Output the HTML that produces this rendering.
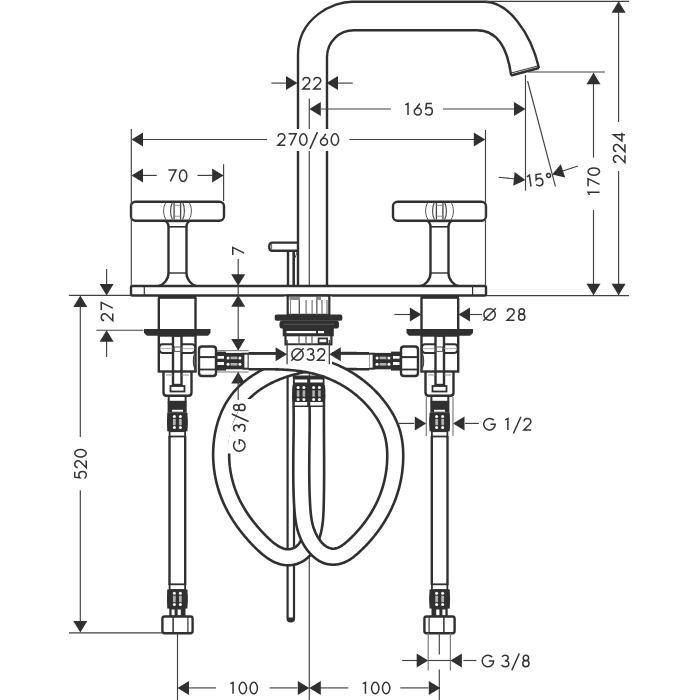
<!DOCTYPE html>
<html><head><meta charset="utf-8"><style>
html,body{margin:0;padding:0;background:#fff;width:700px;height:700px;overflow:hidden}
svg{display:block}
text{font-family:"Liberation Sans",sans-serif;fill:#333}
</style></head><body>
<svg width="700" height="700" viewBox="0 0 700 700">
<rect width="700" height="700" fill="#fff"/>
<path d="M298,286 V55 C298,17 334,1.7 352,1.7 H485 C507.8,1.7 530.8,32.2 539,68" stroke="#303030" stroke-width="2.4" fill="none" />
<path d="M327,286 V57 C327,42 339,30.3 354,30.3 H477 C496.6,30.3 507.2,45.6 511.1,75.4" stroke="#303030" stroke-width="2.4" fill="none" />
<path d="M539,68 L511,75.4" stroke="#303030" stroke-width="2.6" fill="none" />
<path d="M538.5,65.8 L510.5,73.2" stroke="#303030" stroke-width="1.0" fill="none" />
<line x1="485" y1="1.3" x2="629" y2="1.3" stroke="#404040" stroke-width="1.15"/>
<line x1="618.6" y1="1.3" x2="618.6" y2="122" stroke="#404040" stroke-width="1.15"/>
<line x1="618.6" y1="171" x2="618.6" y2="295" stroke="#404040" stroke-width="1.15"/>
<polygon points="618.60,1.30 611.60,12.80 625.60,12.80" fill="#303030"/>
<polygon points="618.60,295.30 611.60,283.80 625.60,283.80" fill="#303030"/>
<g fill="none" stroke="#333" stroke-width="1.5" stroke-linecap="butt" stroke-linejoin="miter" transform="rotate(-90 619.2 148)"><path transform="translate(608.30,141.50)" d="M-3.4,3.7 C-3.4,1.9 -1.9,0.75 0,0.75 C1.95,0.75 3.4,2.0 3.4,3.8 C3.4,4.9 2.9,5.7 2.1,6.6 L-3.6,12.25 H3.7"/><path transform="translate(619.20,141.50)" d="M-3.4,3.7 C-3.4,1.9 -1.9,0.75 0,0.75 C1.95,0.75 3.4,2.0 3.4,3.8 C3.4,4.9 2.9,5.7 2.1,6.6 L-3.6,12.25 H3.7"/><path transform="translate(630.10,141.50)" d="M2.3,12.25 V0.75 L-4.0,9.2 H4.3"/></g>
<line x1="528" y1="72" x2="605" y2="72" stroke="#404040" stroke-width="1.15"/>
<line x1="593.5" y1="72.8" x2="593.5" y2="157.5" stroke="#404040" stroke-width="1.15"/>
<line x1="593.5" y1="210" x2="593.5" y2="295" stroke="#404040" stroke-width="1.15"/>
<polygon points="593.50,72.80 586.50,84.30 600.50,84.30" fill="#303030"/>
<polygon points="593.50,295.30 586.50,283.80 600.50,283.80" fill="#303030"/>
<g fill="none" stroke="#333" stroke-width="1.5" stroke-linecap="butt" stroke-linejoin="miter" transform="rotate(-90 593.8 182.5)"><path transform="translate(582.90,176.00)" d="M-1.6,2.1 L1.1,0.75 V12.25"/><path transform="translate(593.80,176.00)" d="M-3.8,0.75 H3.8 L-1.9,12.25"/><path transform="translate(604.70,176.00)" d="M-3.70,6.50 A3.70,5.75 0 1,0 3.70,6.50 A3.70,5.75 0 1,0 -3.70,6.50 Z"/></g>
<line x1="486" y1="295.6" x2="629" y2="295.6" stroke="#404040" stroke-width="1.15"/>
<line x1="525.5" y1="75" x2="525.5" y2="190.7" stroke="#404040" stroke-width="1.15"/>
<line x1="527.6" y1="81" x2="555.4" y2="186.4" stroke="#404040" stroke-width="1.15"/>
<line x1="498.6" y1="177.3" x2="514" y2="178.8" stroke="#404040" stroke-width="1.15"/>
<polygon points="525.40,180.00 513.26,185.81 514.66,171.88" fill="#303030"/>
<line x1="577.9" y1="166" x2="562" y2="171.3" stroke="#404040" stroke-width="1.15"/>
<polygon points="552.10,174.60 560.80,164.32 565.22,177.60" fill="#303030"/>
<g fill="none" stroke="#333" stroke-width="1.5" stroke-linecap="butt" stroke-linejoin="miter" transform="rotate(-8 529.1 181)"><path transform="translate(529.10,174.50)" d="M-1.6,2.1 L1.1,0.75 V12.25"/></g>
<g fill="none" stroke="#333" stroke-width="1.5" stroke-linecap="butt" stroke-linejoin="miter" transform="rotate(-8 539 180)"><path transform="translate(539.00,173.50)" d="M3.2,0.75 H-2.2 L-2.8,5.8 C-2.0,5.1 -1.0,4.8 0.2,4.8 C2.3,4.8 3.6,6.4 3.6,8.5 C3.6,10.7 2.1,12.25 0,12.25 C-1.5,12.25 -2.7,11.6 -3.5,10.6"/></g>
<g fill="none" stroke="#333" stroke-width="1.5" stroke-linecap="butt" stroke-linejoin="miter" transform="rotate(-8 549.1 179.5)"><path transform="translate(549.10,173.00)" d="M-2.00,2.40 A2.00,2.00 0 1,0 2.00,2.40 A2.00,2.00 0 1,0 -2.00,2.40 Z"/></g>
<line x1="309.3" y1="98.6" x2="309.3" y2="700" stroke="#404040" stroke-width="1.15"/>
<line x1="321" y1="109" x2="391" y2="109" stroke="#404040" stroke-width="1.15"/>
<line x1="443" y1="109" x2="514" y2="109" stroke="#404040" stroke-width="1.15"/>
<polygon points="309.30,109.00 320.80,102.00 320.80,116.00" fill="#303030"/>
<polygon points="525.50,109.00 514.00,102.00 514.00,116.00" fill="#303030"/>
<g fill="none" stroke="#333" stroke-width="1.5" stroke-linecap="butt" stroke-linejoin="miter"><path transform="translate(406.90,102.80)" d="M-1.6,2.1 L1.1,0.75 V12.25"/><path transform="translate(417.80,102.80)" d="M1.9,0.75 L-2.9,7.3 M-3.50,8.75 A3.50,3.50 0 1,0 3.50,8.75 A3.50,3.50 0 1,0 -3.50,8.75 Z"/><path transform="translate(428.70,102.80)" d="M3.2,0.75 H-2.2 L-2.8,5.8 C-2.0,5.1 -1.0,4.8 0.2,4.8 C2.3,4.8 3.6,6.4 3.6,8.5 C3.6,10.7 2.1,12.25 0,12.25 C-1.5,12.25 -2.7,11.6 -3.5,10.6"/></g>
<line x1="271.3" y1="83.1" x2="286" y2="83.1" stroke="#404040" stroke-width="1.15"/>
<line x1="338" y1="83.1" x2="352.8" y2="83.1" stroke="#404040" stroke-width="1.15"/>
<polygon points="297.50,83.10 286.00,76.10 286.00,90.10" fill="#303030"/>
<polygon points="326.50,83.10 338.00,76.10 338.00,90.10" fill="#303030"/>
<g fill="none" stroke="#333" stroke-width="1.5" stroke-linecap="butt" stroke-linejoin="miter"><path transform="translate(306.45,76.75)" d="M-3.4,3.7 C-3.4,1.9 -1.9,0.75 0,0.75 C1.95,0.75 3.4,2.0 3.4,3.8 C3.4,4.9 2.9,5.7 2.1,6.6 L-3.6,12.25 H3.7"/><path transform="translate(317.35,76.75)" d="M-3.4,3.7 C-3.4,1.9 -1.9,0.75 0,0.75 C1.95,0.75 3.4,2.0 3.4,3.8 C3.4,4.9 2.9,5.7 2.1,6.6 L-3.6,12.25 H3.7"/></g>
<rect x="131" y="201.75" width="93" height="19.05000000000001" rx="4.5" stroke="#303030" stroke-width="2.4" fill="none"/>
<path d="M164.7,220.8 C167.5,221.5 168.5,224 168.5,227.3 V273 C168.5,280 163,285 158.75,286" stroke="#303030" stroke-width="2.4" fill="none" />
<path d="M190.3,220.8 C187.5,221.5 186.5,224 186.5,227.3 V273 C186.5,280 192,285 196.25,286" stroke="#303030" stroke-width="2.4" fill="none" />
<line x1="168.5" y1="226.8" x2="186.5" y2="226.8" stroke="#303030" stroke-width="1.6"/>
<line x1="168.5" y1="273" x2="186.5" y2="273" stroke="#303030" stroke-width="1.4"/>
<line x1="174.1" y1="202.5" x2="174.1" y2="219.5" stroke="#444" stroke-width="1.3"/>
<line x1="180.6" y1="202.5" x2="180.6" y2="219.5" stroke="#444" stroke-width="1.3"/>
<line x1="174.1" y1="205.3" x2="180.6" y2="205.3" stroke="#888" stroke-width="0.9"/>
<line x1="174.1" y1="216.2" x2="180.6" y2="216.2" stroke="#888" stroke-width="0.9"/>
<path d="M166,202.3 C162.8,207 162.8,214.8 166,219.6" stroke="#555" stroke-width="1.0" fill="none" />
<path d="M189,202.3 C192.2,207 192.2,214.8 189,219.6" stroke="#555" stroke-width="1.0" fill="none" />
<path d="M172.4,202.3 C170,207 170,214.8 172.4,219.6" stroke="#444" stroke-width="1.1" fill="none" />
<path d="M182.6,202.3 C185,207 185,214.8 182.6,219.6" stroke="#444" stroke-width="1.1" fill="none" />
<line x1="168.5" y1="222.6" x2="186.5" y2="222.6" stroke="#bbb" stroke-width="0.7"/>
<g transform="translate(617,0) scale(-1,1)">
<rect x="131" y="201.75" width="93" height="19.05000000000001" rx="4.5" stroke="#303030" stroke-width="2.4" fill="none"/>
<path d="M164.7,220.8 C167.5,221.5 168.5,224 168.5,227.3 V273 C168.5,280 163,285 158.75,286" stroke="#303030" stroke-width="2.4" fill="none" />
<path d="M190.3,220.8 C187.5,221.5 186.5,224 186.5,227.3 V273 C186.5,280 192,285 196.25,286" stroke="#303030" stroke-width="2.4" fill="none" />
<line x1="168.5" y1="226.8" x2="186.5" y2="226.8" stroke="#303030" stroke-width="1.6"/>
<line x1="168.5" y1="273" x2="186.5" y2="273" stroke="#303030" stroke-width="1.4"/>
<line x1="174.1" y1="202.5" x2="174.1" y2="219.5" stroke="#444" stroke-width="1.3"/>
<line x1="180.6" y1="202.5" x2="180.6" y2="219.5" stroke="#444" stroke-width="1.3"/>
<line x1="174.1" y1="205.3" x2="180.6" y2="205.3" stroke="#888" stroke-width="0.9"/>
<line x1="174.1" y1="216.2" x2="180.6" y2="216.2" stroke="#888" stroke-width="0.9"/>
<path d="M166,202.3 C162.8,207 162.8,214.8 166,219.6" stroke="#555" stroke-width="1.0" fill="none" />
<path d="M189,202.3 C192.2,207 192.2,214.8 189,219.6" stroke="#555" stroke-width="1.0" fill="none" />
<path d="M172.4,202.3 C170,207 170,214.8 172.4,219.6" stroke="#444" stroke-width="1.1" fill="none" />
<path d="M182.6,202.3 C185,207 185,214.8 182.6,219.6" stroke="#444" stroke-width="1.1" fill="none" />
<line x1="168.5" y1="222.6" x2="186.5" y2="222.6" stroke="#bbb" stroke-width="0.7"/>
</g>
<rect x="131" y="286" width="355" height="9.5" rx="1.5" stroke="#303030" stroke-width="2.4" fill="#fff"/>
<line x1="144.3" y1="286" x2="144.3" y2="295.5" stroke="#303030" stroke-width="1.2"/>
<line x1="472.6" y1="286" x2="472.6" y2="295.5" stroke="#303030" stroke-width="1.2"/>
<path d="M297,242.6 H272.5 C270,242.6 269.2,244 269.2,246.7 C269.2,249.4 270,250.8 272.5,250.8 H297" stroke="#303030" stroke-width="2.4" fill="none" />
<line x1="271.6" y1="243.5" x2="271.6" y2="250" stroke="#666" stroke-width="1.0"/>
<path d="M288,251 V286" stroke="#303030" stroke-width="2.4" fill="none" />
<path d="M293.7,251 V286" stroke="#303030" stroke-width="2.6" fill="none" />
<line x1="295" y1="258" x2="297" y2="252" stroke="#555" stroke-width="1.0"/>
<line x1="131.3" y1="129" x2="131.3" y2="286" stroke="#404040" stroke-width="1.15"/>
<line x1="485.5" y1="130" x2="485.5" y2="286" stroke="#404040" stroke-width="1.15"/>
<line x1="143" y1="139.5" x2="267" y2="139.5" stroke="#404040" stroke-width="1.15"/>
<line x1="349.3" y1="139.5" x2="474" y2="139.5" stroke="#404040" stroke-width="1.15"/>
<polygon points="131.50,139.50 143.00,132.50 143.00,146.50" fill="#303030"/>
<polygon points="485.30,139.50 473.80,132.50 473.80,146.50" fill="#303030"/>
<rect x="268" y="129" width="80" height="22" rx="0" fill="#fff"/>
<g fill="none" stroke="#333" stroke-width="1.5" stroke-linecap="butt" stroke-linejoin="miter"><path transform="translate(281.50,133.10)" d="M-3.4,3.7 C-3.4,1.9 -1.9,0.75 0,0.75 C1.95,0.75 3.4,2.0 3.4,3.8 C3.4,4.9 2.9,5.7 2.1,6.6 L-3.6,12.25 H3.7"/><path transform="translate(292.40,133.10)" d="M-3.8,0.75 H3.8 L-1.9,12.25"/><path transform="translate(303.30,133.10)" d="M-3.70,6.50 A3.70,5.75 0 1,0 3.70,6.50 A3.70,5.75 0 1,0 -3.70,6.50 Z"/><path transform="translate(313.65,133.10)" d="M3.75,-1.0 L-3.75,15.8"/><path transform="translate(324.00,133.10)" d="M1.9,0.75 L-2.9,7.3 M-3.50,8.75 A3.50,3.50 0 1,0 3.50,8.75 A3.50,3.50 0 1,0 -3.50,8.75 Z"/><path transform="translate(334.90,133.10)" d="M-3.70,6.50 A3.70,5.75 0 1,0 3.70,6.50 A3.70,5.75 0 1,0 -3.70,6.50 Z"/></g>
<line x1="223.6" y1="164.3" x2="223.6" y2="201" stroke="#404040" stroke-width="1.15"/>
<line x1="143" y1="175.4" x2="156.8" y2="175.4" stroke="#404040" stroke-width="1.15"/>
<line x1="197.5" y1="175.4" x2="212" y2="175.4" stroke="#404040" stroke-width="1.15"/>
<polygon points="131.50,175.40 143.00,168.40 143.00,182.40" fill="#303030"/>
<polygon points="223.60,175.40 212.10,168.40 212.10,182.40" fill="#303030"/>
<g fill="none" stroke="#333" stroke-width="1.5" stroke-linecap="butt" stroke-linejoin="miter"><path transform="translate(172.25,169.20)" d="M-3.8,0.75 H3.8 L-1.9,12.25"/><path transform="translate(183.15,169.20)" d="M-3.70,6.50 A3.70,5.75 0 1,0 3.70,6.50 A3.70,5.75 0 1,0 -3.70,6.50 Z"/></g>
<rect x="158" y="295.5" width="38.5" height="3.3000000000000114" rx="0" fill="#303030"/>
<line x1="158.8" y1="298" x2="158.8" y2="329" stroke="#303030" stroke-width="2.4"/>
<line x1="195.5" y1="298" x2="195.5" y2="329" stroke="#303030" stroke-width="2.4"/>
<polygon points="144,329 210.5,329 210.5,333 208,335.7 147,335.7 144,333" fill="#303030"/>
<rect x="158.8" y="335.5" width="36.69999999999999" height="36.0" rx="0" stroke="#303030" stroke-width="2.4" fill="none"/>
<rect x="173" y="335.5" width="8.5" height="49.5" rx="0" stroke="#303030" stroke-width="2.4" fill="none"/>
<path d="M173,344.3 H162.5 C160,344.3 159.3,346.5 159.3,348.6 C159.3,350.7 160,352.9 162.5,352.9 H173" stroke="#303030" stroke-width="2.0" fill="none" />
<path d="M181.5,344.3 H192 C194.5,344.3 195.2,346.5 195.2,348.6 C195.2,350.7 194.5,352.9 192,352.9 H181.5" stroke="#303030" stroke-width="2.0" fill="none" />
<line x1="160" y1="348.6" x2="173" y2="348.6" stroke="#999" stroke-width="0.8"/>
<line x1="181.5" y1="348.6" x2="194.5" y2="348.6" stroke="#999" stroke-width="0.8"/>
<rect x="174.3" y="347" width="7.099999999999994" height="4.399999999999977" rx="0" stroke="#555" stroke-width="1.0" fill="none"/>
<path d="M202,346.5 H213 Q216,346.5 216,349.5 V373 Q216,376 213,376 H202 Q199,376 199,373 V349.5 Q199,346.5 202,346.5 Z" fill="#fff" stroke="#303030" stroke-width="2.4"/>
<line x1="199" y1="357.1" x2="216" y2="357.1" stroke="#303030" stroke-width="2.0"/>
<line x1="199" y1="369.5" x2="216" y2="369.5" stroke="#303030" stroke-width="1.8"/>
<path d="M196,352 C192.5,356 192.5,367 196.5,371" stroke="#444" stroke-width="1.3" fill="none" />
<rect x="216" y="352.6" width="9" height="17.0" rx="0" stroke="#303030" stroke-width="2.0" fill="none"/>
<rect x="216" y="352.6" width="9" height="17.0" rx="0" fill="#303030"/>
<rect x="217.5" y="356" width="6.5" height="2.6999999999999886" rx="0" fill="#fff"/>
<rect x="217.5" y="362" width="6.5" height="3" rx="0" fill="#fff"/>
<rect x="225" y="352.90000000000003" width="18" height="16.399999999999977" rx="0" fill="#303030"/>
<circle cx="228.06" cy="357.90000000000003" r="1.5" fill="#fff"/>
<circle cx="239.94" cy="357.90000000000003" r="1.5" fill="#fff"/>
<rect x="230.58" y="356.6" width="6.839999999999975" height="2.6000000000000227" rx="0" fill="#b0b0b0"/>
<circle cx="228.06" cy="364.3" r="1.5" fill="#fff"/>
<circle cx="239.94" cy="364.3" r="1.5" fill="#fff"/>
<rect x="230.58" y="363.0" width="6.839999999999975" height="2.6000000000000227" rx="0" fill="#b0b0b0"/>
<rect x="243.4" y="353.7" width="5.199999999999989" height="15.0" rx="0" stroke="#303030" stroke-width="2.0" fill="none"/>
<path d="M163.5,371.5 V392.5 Q163.5,395.8 166.8,395.8 H188.2 Q191.5,395.8 191.5,392.5 V371.5" stroke="#303030" stroke-width="2.4" fill="none" />
<line x1="166" y1="375" x2="173" y2="375" stroke="#888" stroke-width="0.9"/>
<line x1="181.5" y1="375" x2="189" y2="375" stroke="#888" stroke-width="0.9"/>
<rect x="170.5" y="386" width="14.0" height="5.5" rx="0" stroke="#303030" stroke-width="1.8" fill="none"/>
<rect x="168.7" y="395.9" width="16.900000000000006" height="5.900000000000034" rx="0" stroke="#303030" stroke-width="2.0" fill="none"/>
<rect x="167.6" y="401.8" width="19.099999999999994" height="11.0" rx="0" fill="#303030"/>
<rect x="172" y="409.8" width="11" height="1.8999999999999773" rx="0" fill="#fff"/>
<path d="M168.35,412.8 V431.3 M186.35,412.8 V431.3" stroke="#303030" stroke-width="2.3" fill="none" />
<rect x="168.35" y="412.8" width="18.0" height="18.5" rx="0" fill="#303030"/>
<ellipse cx="168.35" cy="422.05" rx="1.4" ry="7.25" fill="#303030"/>
<ellipse cx="186.35" cy="422.05" rx="1.4" ry="7.25" fill="#303030"/>
<circle cx="174.35" cy="416.5" r="1.5" fill="#fff"/>
<circle cx="174.35" cy="427.6" r="1.5" fill="#fff"/>
<rect x="172.95" y="418.90500000000003" width="2.8000000000000114" height="6.289999999999964" rx="0" fill="#b0b0b0"/>
<circle cx="180.35" cy="416.5" r="1.5" fill="#fff"/>
<circle cx="180.35" cy="427.6" r="1.5" fill="#fff"/>
<rect x="178.95" y="418.90500000000003" width="2.8000000000000114" height="6.289999999999964" rx="0" fill="#b0b0b0"/>
<rect x="169.6" y="431.2" width="15.5" height="5.300000000000011" rx="0" stroke="#303030" stroke-width="1.8" fill="none"/>
<line x1="169.5" y1="436" x2="169.5" y2="585" stroke="#303030" stroke-width="2.4"/>
<line x1="185.2" y1="436" x2="185.2" y2="585" stroke="#303030" stroke-width="2.4"/>
<rect x="169.6" y="584.3" width="15.5" height="5.7000000000000455" rx="0" stroke="#303030" stroke-width="1.8" fill="none"/>
<path d="M168.35,589.5 V608.4 M186.35,589.5 V608.4" stroke="#303030" stroke-width="2.3" fill="none" />
<rect x="168.35" y="589.5" width="18.0" height="18.899999999999977" rx="0" fill="#303030"/>
<ellipse cx="168.35" cy="598.95" rx="1.4" ry="7.449999999999989" fill="#303030"/>
<ellipse cx="186.35" cy="598.95" rx="1.4" ry="7.449999999999989" fill="#303030"/>
<circle cx="174.35" cy="593.28" r="1.5" fill="#fff"/>
<circle cx="174.35" cy="604.62" r="1.5" fill="#fff"/>
<rect x="172.95" y="595.737" width="2.8000000000000114" height="6.426000000000045" rx="0" fill="#b0b0b0"/>
<circle cx="180.35" cy="593.28" r="1.5" fill="#fff"/>
<circle cx="180.35" cy="604.62" r="1.5" fill="#fff"/>
<rect x="178.95" y="595.737" width="2.8000000000000114" height="6.426000000000045" rx="0" fill="#b0b0b0"/>
<rect x="169.3" y="608" width="16.19999999999999" height="9" rx="0" fill="#303030"/>
<rect x="171.6" y="609.5" width="3.0" height="6.0" rx="0" fill="#fff"/>
<rect x="177.6" y="609.5" width="3.200000000000017" height="6.0" rx="0" fill="#fff"/>
<rect x="162.4" y="616.5" width="30.19999999999999" height="16.700000000000045" rx="2.2" stroke="#303030" stroke-width="2.4" fill="none"/>
<line x1="173.1" y1="616.5" x2="173.1" y2="633.2" stroke="#303030" stroke-width="1.5"/>
<line x1="187.9" y1="616.5" x2="187.9" y2="633.2" stroke="#303030" stroke-width="1.2"/>
<g transform="translate(617,0) scale(-1,1)">
<rect x="158" y="295.5" width="38.5" height="3.3000000000000114" rx="0" fill="#303030"/>
<line x1="158.8" y1="298" x2="158.8" y2="329" stroke="#303030" stroke-width="2.4"/>
<line x1="195.5" y1="298" x2="195.5" y2="329" stroke="#303030" stroke-width="2.4"/>
<polygon points="144,329 210.5,329 210.5,333 208,335.7 147,335.7 144,333" fill="#303030"/>
<rect x="158.8" y="335.5" width="36.69999999999999" height="36.0" rx="0" stroke="#303030" stroke-width="2.4" fill="none"/>
<rect x="173" y="335.5" width="8.5" height="49.5" rx="0" stroke="#303030" stroke-width="2.4" fill="none"/>
<path d="M173,344.3 H162.5 C160,344.3 159.3,346.5 159.3,348.6 C159.3,350.7 160,352.9 162.5,352.9 H173" stroke="#303030" stroke-width="2.0" fill="none" />
<path d="M181.5,344.3 H192 C194.5,344.3 195.2,346.5 195.2,348.6 C195.2,350.7 194.5,352.9 192,352.9 H181.5" stroke="#303030" stroke-width="2.0" fill="none" />
<line x1="160" y1="348.6" x2="173" y2="348.6" stroke="#999" stroke-width="0.8"/>
<line x1="181.5" y1="348.6" x2="194.5" y2="348.6" stroke="#999" stroke-width="0.8"/>
<rect x="174.3" y="347" width="7.099999999999994" height="4.399999999999977" rx="0" stroke="#555" stroke-width="1.0" fill="none"/>
<path d="M202,346.5 H213 Q216,346.5 216,349.5 V373 Q216,376 213,376 H202 Q199,376 199,373 V349.5 Q199,346.5 202,346.5 Z" fill="#fff" stroke="#303030" stroke-width="2.4"/>
<line x1="199" y1="357.1" x2="216" y2="357.1" stroke="#303030" stroke-width="2.0"/>
<line x1="199" y1="369.5" x2="216" y2="369.5" stroke="#303030" stroke-width="1.8"/>
<path d="M196,352 C192.5,356 192.5,367 196.5,371" stroke="#444" stroke-width="1.3" fill="none" />
<rect x="216" y="352.6" width="9" height="17.0" rx="0" stroke="#303030" stroke-width="2.0" fill="none"/>
<rect x="216" y="352.6" width="9" height="17.0" rx="0" fill="#303030"/>
<rect x="217.5" y="356" width="6.5" height="2.6999999999999886" rx="0" fill="#fff"/>
<rect x="217.5" y="362" width="6.5" height="3" rx="0" fill="#fff"/>
<rect x="225" y="352.90000000000003" width="18" height="16.399999999999977" rx="0" fill="#303030"/>
<circle cx="228.06" cy="357.90000000000003" r="1.5" fill="#fff"/>
<circle cx="239.94" cy="357.90000000000003" r="1.5" fill="#fff"/>
<rect x="230.58" y="356.6" width="6.839999999999975" height="2.6000000000000227" rx="0" fill="#b0b0b0"/>
<circle cx="228.06" cy="364.3" r="1.5" fill="#fff"/>
<circle cx="239.94" cy="364.3" r="1.5" fill="#fff"/>
<rect x="230.58" y="363.0" width="6.839999999999975" height="2.6000000000000227" rx="0" fill="#b0b0b0"/>
<rect x="243.4" y="353.7" width="5.199999999999989" height="15.0" rx="0" stroke="#303030" stroke-width="2.0" fill="none"/>
<path d="M163.5,371.5 V392.5 Q163.5,395.8 166.8,395.8 H188.2 Q191.5,395.8 191.5,392.5 V371.5" stroke="#303030" stroke-width="2.4" fill="none" />
<line x1="166" y1="375" x2="173" y2="375" stroke="#888" stroke-width="0.9"/>
<line x1="181.5" y1="375" x2="189" y2="375" stroke="#888" stroke-width="0.9"/>
<rect x="170.5" y="386" width="14.0" height="5.5" rx="0" stroke="#303030" stroke-width="1.8" fill="none"/>
<rect x="168.7" y="395.9" width="16.900000000000006" height="5.900000000000034" rx="0" stroke="#303030" stroke-width="2.0" fill="none"/>
<rect x="167.6" y="401.8" width="19.099999999999994" height="11.0" rx="0" fill="#303030"/>
<rect x="172" y="409.8" width="11" height="1.8999999999999773" rx="0" fill="#fff"/>
<path d="M168.35,412.8 V431.3 M186.35,412.8 V431.3" stroke="#303030" stroke-width="2.3" fill="none" />
<rect x="168.35" y="412.8" width="18.0" height="18.5" rx="0" fill="#303030"/>
<ellipse cx="168.35" cy="422.05" rx="1.4" ry="7.25" fill="#303030"/>
<ellipse cx="186.35" cy="422.05" rx="1.4" ry="7.25" fill="#303030"/>
<circle cx="174.35" cy="416.5" r="1.5" fill="#fff"/>
<circle cx="174.35" cy="427.6" r="1.5" fill="#fff"/>
<rect x="172.95" y="418.90500000000003" width="2.8000000000000114" height="6.289999999999964" rx="0" fill="#b0b0b0"/>
<circle cx="180.35" cy="416.5" r="1.5" fill="#fff"/>
<circle cx="180.35" cy="427.6" r="1.5" fill="#fff"/>
<rect x="178.95" y="418.90500000000003" width="2.8000000000000114" height="6.289999999999964" rx="0" fill="#b0b0b0"/>
<rect x="169.6" y="431.2" width="15.5" height="5.300000000000011" rx="0" stroke="#303030" stroke-width="1.8" fill="none"/>
<line x1="169.5" y1="436" x2="169.5" y2="585" stroke="#303030" stroke-width="2.4"/>
<line x1="185.2" y1="436" x2="185.2" y2="585" stroke="#303030" stroke-width="2.4"/>
<rect x="169.6" y="584.3" width="15.5" height="5.7000000000000455" rx="0" stroke="#303030" stroke-width="1.8" fill="none"/>
<path d="M168.35,589.5 V608.4 M186.35,589.5 V608.4" stroke="#303030" stroke-width="2.3" fill="none" />
<rect x="168.35" y="589.5" width="18.0" height="18.899999999999977" rx="0" fill="#303030"/>
<ellipse cx="168.35" cy="598.95" rx="1.4" ry="7.449999999999989" fill="#303030"/>
<ellipse cx="186.35" cy="598.95" rx="1.4" ry="7.449999999999989" fill="#303030"/>
<circle cx="174.35" cy="593.28" r="1.5" fill="#fff"/>
<circle cx="174.35" cy="604.62" r="1.5" fill="#fff"/>
<rect x="172.95" y="595.737" width="2.8000000000000114" height="6.426000000000045" rx="0" fill="#b0b0b0"/>
<circle cx="180.35" cy="593.28" r="1.5" fill="#fff"/>
<circle cx="180.35" cy="604.62" r="1.5" fill="#fff"/>
<rect x="178.95" y="595.737" width="2.8000000000000114" height="6.426000000000045" rx="0" fill="#b0b0b0"/>
<rect x="169.3" y="608" width="16.19999999999999" height="9" rx="0" fill="#303030"/>
<rect x="171.6" y="609.5" width="3.0" height="6.0" rx="0" fill="#fff"/>
<rect x="177.6" y="609.5" width="3.200000000000017" height="6.0" rx="0" fill="#fff"/>
<rect x="162.4" y="616.5" width="30.19999999999999" height="16.700000000000045" rx="2.2" stroke="#303030" stroke-width="2.4" fill="none"/>
<line x1="173.1" y1="616.5" x2="173.1" y2="633.2" stroke="#303030" stroke-width="1.5"/>
<line x1="187.9" y1="616.5" x2="187.9" y2="633.2" stroke="#303030" stroke-width="1.2"/>
</g>
<line x1="68.9" y1="295.4" x2="131" y2="295.4" stroke="#404040" stroke-width="1.15"/>
<line x1="96.3" y1="330.2" x2="143.4" y2="330.2" stroke="#404040" stroke-width="1.15"/>
<line x1="106.6" y1="268.9" x2="106.6" y2="284" stroke="#404040" stroke-width="1.15"/>
<line x1="106.6" y1="341" x2="106.6" y2="357.1" stroke="#404040" stroke-width="1.15"/>
<polygon points="106.60,295.40 99.60,283.90 113.60,283.90" fill="#303030"/>
<polygon points="106.60,330.20 99.60,341.70 113.60,341.70" fill="#303030"/>
<g fill="none" stroke="#333" stroke-width="1.5" stroke-linecap="butt" stroke-linejoin="miter" transform="rotate(-90 107 311.7)"><path transform="translate(101.55,305.20)" d="M-3.4,3.7 C-3.4,1.9 -1.9,0.75 0,0.75 C1.95,0.75 3.4,2.0 3.4,3.8 C3.4,4.9 2.9,5.7 2.1,6.6 L-3.6,12.25 H3.7"/><path transform="translate(112.45,305.20)" d="M-3.8,0.75 H3.8 L-1.9,12.25"/></g>
<line x1="80.3" y1="306" x2="80.3" y2="437" stroke="#404040" stroke-width="1.15"/>
<line x1="80.3" y1="490.3" x2="80.3" y2="622" stroke="#404040" stroke-width="1.15"/>
<polygon points="80.30,295.40 73.30,306.90 87.30,306.90" fill="#303030"/>
<polygon points="80.30,632.60 73.30,621.10 87.30,621.10" fill="#303030"/>
<g fill="none" stroke="#333" stroke-width="1.5" stroke-linecap="butt" stroke-linejoin="miter" transform="rotate(-90 80.5 464.1)"><path transform="translate(69.60,457.60)" d="M3.2,0.75 H-2.2 L-2.8,5.8 C-2.0,5.1 -1.0,4.8 0.2,4.8 C2.3,4.8 3.6,6.4 3.6,8.5 C3.6,10.7 2.1,12.25 0,12.25 C-1.5,12.25 -2.7,11.6 -3.5,10.6"/><path transform="translate(80.50,457.60)" d="M-3.4,3.7 C-3.4,1.9 -1.9,0.75 0,0.75 C1.95,0.75 3.4,2.0 3.4,3.8 C3.4,4.9 2.9,5.7 2.1,6.6 L-3.6,12.25 H3.7"/><path transform="translate(91.40,457.60)" d="M-3.70,6.50 A3.70,5.75 0 1,0 3.70,6.50 A3.70,5.75 0 1,0 -3.70,6.50 Z"/></g>
<line x1="69" y1="632.8" x2="162" y2="632.8" stroke="#404040" stroke-width="1.15"/>
<line x1="238.2" y1="259" x2="238.2" y2="350" stroke="#404040" stroke-width="1.15"/>
<polygon points="238.20,285.70 231.20,274.20 245.20,274.20" fill="#303030"/>
<polygon points="238.20,295.20 231.20,306.70 245.20,306.70" fill="#303030"/>
<polygon points="238.20,350.50 231.20,339.00 245.20,339.00" fill="#303030"/>
<polygon points="238.20,372.10 231.20,383.60 245.20,383.60" fill="#303030"/>
<g fill="none" stroke="#333" stroke-width="1.5" stroke-linecap="butt" stroke-linejoin="miter" transform="rotate(-90 238.5 251.2)"><path transform="translate(238.50,244.70)" d="M-3.8,0.75 H3.8 L-1.9,12.25"/></g>
<line x1="217" y1="350.6" x2="248.6" y2="350.6" stroke="#888" stroke-width="1.15"/>
<line x1="217" y1="372" x2="248.6" y2="372" stroke="#888" stroke-width="1.15"/>
<rect x="287.6" y="350" width="6.399999999999977" height="271.4" rx="3" stroke="#303030" stroke-width="2.2" fill="none"/>
<path d="M287.6,617.5 H294 V618.6 A3.2,3.2 0 0,1 287.6,618.6 Z" fill="#303030"/>
<path d="M369.09,361.21 L367.79,361.22 L366.49,361.21 L365.19,361.21 L363.90,361.21 L362.60,361.20 L361.32,361.20 L360.03,361.19 L358.75,361.18 L357.46,361.18 L356.18,361.17 L354.91,361.16 L353.63,361.16 L352.36,361.15 L351.09,361.15 L349.82,361.14 L348.55,361.14 L347.29,361.14 L346.03,361.15 L344.76,361.15 L343.50,361.16 L342.25,361.17 L340.99,361.18 L339.73,361.20 L338.48,361.22 L337.22,361.24 L335.97,361.27 L334.72,361.30 L333.47,361.34 L332.22,361.38 L330.97,361.43 L329.73,361.48 L328.48,361.54 L327.23,361.60 L325.99,361.67 L324.74,361.75 L323.50,361.83 L322.26,361.92 L321.01,362.02 L319.77,362.12 L318.52,362.23 L317.28,362.35 L316.04,362.48 L314.79,362.62 L313.55,362.76 L312.31,362.91 L311.06,363.08 L309.82,363.25 L308.57,363.43 L307.33,363.62 L306.08,363.82 L304.83,364.03 L303.59,364.25 L302.34,364.49 L301.09,364.73 L299.84,364.99 L298.59,365.25 L297.34,365.53 L296.08,365.82 L294.83,366.12 L293.58,366.44 L292.33,366.76 L291.08,367.10 L289.84,367.45 L288.59,367.81 L287.35,368.18 L286.11,368.57 L284.87,368.96 L283.63,369.37 L282.40,369.79 L281.17,370.23 L279.95,370.67 L278.73,371.13 L277.52,371.60 L276.31,372.08 L275.11,372.57 L273.91,373.08 L272.72,373.60 L271.54,374.13 L270.36,374.68 L269.19,375.23 L268.03,375.80 L266.87,376.39 L265.73,376.98 L264.59,377.59 L263.46,378.21 L262.34,378.84 L261.23,379.49 L260.13,380.15 L259.05,380.82 L257.97,381.51 L256.90,382.20 L255.84,382.92 L254.80,383.64 L253.77,384.38 L252.75,385.13 L251.74,385.90 L250.75,386.67 L249.77,387.47 L248.80,388.27 L247.85,389.09 L246.91,389.92 L245.98,390.77 L245.08,391.63 L244.18,392.50 L243.31,393.39 L242.44,394.29 L241.60,395.20 L240.77,396.13 L239.96,397.07 L239.17,398.03 L238.39,399.00 L237.63,399.98 L236.89,400.98 L236.17,401.99 L235.47,403.02 L234.78,404.05 L234.11,405.10 L233.46,406.16 L232.83,407.24 L232.21,408.32 L231.62,409.42 L231.04,410.52 L230.47,411.64 L229.93,412.77 L229.40,413.91 L228.88,415.05 L228.39,416.21 L227.91,417.38 L227.45,418.55 L227.01,419.73 L226.58,420.93 L226.17,422.12 L225.77,423.33 L225.40,424.54 L225.04,425.76 L224.69,426.99 L224.36,428.22 L224.05,429.46 L223.76,430.71 L223.48,431.96 L223.21,433.21 L222.97,434.47 L222.73,435.74 L222.52,437.01 L222.32,438.28 L222.14,439.55 L221.97,440.83 L221.82,442.12 L221.68,443.40 L221.56,444.69 L221.45,445.98 L221.36,447.27 L221.29,448.56 L221.23,449.85 L221.18,451.14 L221.15,452.44 L221.14,453.73 L221.14,455.02 L221.16,456.32 L221.19,457.61 L221.23,458.90 L221.29,460.19 L221.36,461.48 L221.45,462.76 L221.56,464.05 L221.68,465.33 L221.81,466.61 L221.95,467.88 L222.12,469.15 L222.29,470.42 L222.48,471.68 L222.68,472.94 L222.90,474.19 L223.13,475.44 L223.38,476.68 L223.64,477.92 L223.91,479.15 L224.19,480.38 L224.49,481.60 L224.81,482.81 L225.13,484.02 L225.47,485.23 L225.83,486.42 L226.19,487.62 L226.57,488.80 L226.97,489.99 L227.37,491.16 L227.79,492.33 L228.22,493.50 L228.67,494.66 L229.13,495.82 L229.60,496.97 L230.08,498.11 L230.57,499.25 L231.08,500.39 L231.60,501.52 L232.13,502.64 L232.68,503.76 L233.23,504.88 L233.80,505.99 L234.38,507.09 L234.98,508.19 L235.58,509.29 L236.20,510.38 L236.83,511.47 L237.47,512.55 L238.12,513.62 L238.78,514.70 L239.46,515.76 L240.14,516.83 L240.84,517.88 L241.55,518.94 L242.27,519.99 L243.00,521.03 L243.74,522.07 L244.50,523.11 L245.26,524.14 L246.04,525.16 L246.82,526.19 L247.62,527.20 L248.43,528.22 L249.25,529.23 L250.07,530.23 L250.91,531.23 L251.76,532.23 L252.62,533.22 L253.49,534.21 L254.37,535.19 L255.26,536.18 L256.16,537.15 L257.07,538.12 L257.99,539.09 L258.92,540.06 L259.86,541.02 L260.81,541.97 L261.77,542.92 L262.74,543.85 L263.72,544.78 L264.71,545.69 L265.70,546.58 L266.71,547.45 L267.72,548.30 L268.75,549.13 L269.78,549.93 L270.82,550.70 L271.87,551.44 L272.93,552.15 L274.00,552.82 L275.07,553.46 L276.16,554.05 L277.25,554.61 L278.35,555.11 L279.46,555.58 L280.58,555.99 L281.70,556.35 L282.83,556.66 L283.97,556.91 L285.12,557.10 L286.28,557.23 L287.44,557.30 L288.61,557.30 L289.79,557.24 L290.97,557.11 L292.16,556.90 L293.35,556.63 L294.54,556.29 L295.71,555.87 L296.86,555.39 L297.99,554.84 L299.09,554.22 L300.15,553.54 L301.17,552.78 L302.15,551.97 L303.08,551.09 L303.96,550.16 L304.80,549.18 L305.59,548.16 L306.34,547.10 L307.06,546.00 L307.73,544.88 L308.37,543.74 L308.97,542.58 L309.53,541.41 L310.06,540.23 L310.56,539.05 L311.03,537.86 L311.47,536.66 L311.87,535.46 L312.25,534.24 L312.61,533.03 L312.93,531.80 L313.23,530.57 L313.51,529.34 L313.76,528.10 L314.00,526.86 L314.21,525.61 L314.40,524.36 L314.58,523.10 L314.74,521.84 L314.88,520.58 L315.00,519.32 L315.12,518.05 L315.22,516.78 L315.30,515.51 L315.38,514.23 L315.45,512.96 L315.51,511.68 L315.56,510.41 L315.61,509.13 L315.65,507.85 L315.68,506.57 L315.72,505.29 L315.75,504.02 L315.78,502.74 L315.81,501.46 L315.83,500.19 L315.86,498.92 L315.88,497.64 L315.90,496.37 L315.93,495.10 L315.95,493.82 L315.96,492.55 L315.98,491.28 L316.00,490.01 L316.01,488.74 L316.03,487.47 L316.04,486.20 L316.05,484.93 L316.06,483.66 L316.07,482.40 L316.08,481.13 L316.09,479.86 L316.09,478.59 L316.10,477.33 L316.10,476.06 L316.11,474.79 L316.11,473.53 L316.11,472.26 L316.11,471.00 L316.11,469.73 L316.11,468.47 L316.11,467.20 L316.11,465.94 L316.11,464.68 L316.11,463.41 L316.10,462.15 L316.10,460.88 L316.10,459.62 L316.09,458.36 L316.09,457.09 L316.08,455.83 L316.08,454.57 L316.07,453.30 L316.06,452.04 L316.06,450.78 L316.05,449.52 L316.04,448.25 L316.04,446.99 L316.03,445.73 L316.02,444.46 L316.02,443.20 L316.01,441.93 L316.00,440.67 L316.00,439.41 L315.99,438.14 L315.98,436.88 L315.98,435.61 L315.97,434.35 L315.96,433.09 L315.96,431.82 L315.95,430.55 L315.95,429.29 L315.94,428.02 L315.94,426.76 L315.93,425.49 L315.93,424.22 L315.93,422.96 L315.93,421.69 L315.92,420.42 L315.92,419.15 L315.92,417.88 L315.92,416.61 L315.92,415.34 L315.92,414.07 L315.92,412.80 L315.93,411.53 L315.93,410.26 L315.94,408.99 L315.94,407.72 L315.95,406.44 L315.95,405.17 L315.96,403.90 L315.97,402.62 L315.98,401.34 L315.99,400.07 L316.01,398.79 L316.02,397.51 L316.03,396.24 L316.05,394.96" stroke="#303030" stroke-width="18.6" fill="none"/>
<path d="M369.09,361.21 L367.79,361.22 L366.49,361.21 L365.19,361.21 L363.90,361.21 L362.60,361.20 L361.32,361.20 L360.03,361.19 L358.75,361.18 L357.46,361.18 L356.18,361.17 L354.91,361.16 L353.63,361.16 L352.36,361.15 L351.09,361.15 L349.82,361.14 L348.55,361.14 L347.29,361.14 L346.03,361.15 L344.76,361.15 L343.50,361.16 L342.25,361.17 L340.99,361.18 L339.73,361.20 L338.48,361.22 L337.22,361.24 L335.97,361.27 L334.72,361.30 L333.47,361.34 L332.22,361.38 L330.97,361.43 L329.73,361.48 L328.48,361.54 L327.23,361.60 L325.99,361.67 L324.74,361.75 L323.50,361.83 L322.26,361.92 L321.01,362.02 L319.77,362.12 L318.52,362.23 L317.28,362.35 L316.04,362.48 L314.79,362.62 L313.55,362.76 L312.31,362.91 L311.06,363.08 L309.82,363.25 L308.57,363.43 L307.33,363.62 L306.08,363.82 L304.83,364.03 L303.59,364.25 L302.34,364.49 L301.09,364.73 L299.84,364.99 L298.59,365.25 L297.34,365.53 L296.08,365.82 L294.83,366.12 L293.58,366.44 L292.33,366.76 L291.08,367.10 L289.84,367.45 L288.59,367.81 L287.35,368.18 L286.11,368.57 L284.87,368.96 L283.63,369.37 L282.40,369.79 L281.17,370.23 L279.95,370.67 L278.73,371.13 L277.52,371.60 L276.31,372.08 L275.11,372.57 L273.91,373.08 L272.72,373.60 L271.54,374.13 L270.36,374.68 L269.19,375.23 L268.03,375.80 L266.87,376.39 L265.73,376.98 L264.59,377.59 L263.46,378.21 L262.34,378.84 L261.23,379.49 L260.13,380.15 L259.05,380.82 L257.97,381.51 L256.90,382.20 L255.84,382.92 L254.80,383.64 L253.77,384.38 L252.75,385.13 L251.74,385.90 L250.75,386.67 L249.77,387.47 L248.80,388.27 L247.85,389.09 L246.91,389.92 L245.98,390.77 L245.08,391.63 L244.18,392.50 L243.31,393.39 L242.44,394.29 L241.60,395.20 L240.77,396.13 L239.96,397.07 L239.17,398.03 L238.39,399.00 L237.63,399.98 L236.89,400.98 L236.17,401.99 L235.47,403.02 L234.78,404.05 L234.11,405.10 L233.46,406.16 L232.83,407.24 L232.21,408.32 L231.62,409.42 L231.04,410.52 L230.47,411.64 L229.93,412.77 L229.40,413.91 L228.88,415.05 L228.39,416.21 L227.91,417.38 L227.45,418.55 L227.01,419.73 L226.58,420.93 L226.17,422.12 L225.77,423.33 L225.40,424.54 L225.04,425.76 L224.69,426.99 L224.36,428.22 L224.05,429.46 L223.76,430.71 L223.48,431.96 L223.21,433.21 L222.97,434.47 L222.73,435.74 L222.52,437.01 L222.32,438.28 L222.14,439.55 L221.97,440.83 L221.82,442.12 L221.68,443.40 L221.56,444.69 L221.45,445.98 L221.36,447.27 L221.29,448.56 L221.23,449.85 L221.18,451.14 L221.15,452.44 L221.14,453.73 L221.14,455.02 L221.16,456.32 L221.19,457.61 L221.23,458.90 L221.29,460.19 L221.36,461.48 L221.45,462.76 L221.56,464.05 L221.68,465.33 L221.81,466.61 L221.95,467.88 L222.12,469.15 L222.29,470.42 L222.48,471.68 L222.68,472.94 L222.90,474.19 L223.13,475.44 L223.38,476.68 L223.64,477.92 L223.91,479.15 L224.19,480.38 L224.49,481.60 L224.81,482.81 L225.13,484.02 L225.47,485.23 L225.83,486.42 L226.19,487.62 L226.57,488.80 L226.97,489.99 L227.37,491.16 L227.79,492.33 L228.22,493.50 L228.67,494.66 L229.13,495.82 L229.60,496.97 L230.08,498.11 L230.57,499.25 L231.08,500.39 L231.60,501.52 L232.13,502.64 L232.68,503.76 L233.23,504.88 L233.80,505.99 L234.38,507.09 L234.98,508.19 L235.58,509.29 L236.20,510.38 L236.83,511.47 L237.47,512.55 L238.12,513.62 L238.78,514.70 L239.46,515.76 L240.14,516.83 L240.84,517.88 L241.55,518.94 L242.27,519.99 L243.00,521.03 L243.74,522.07 L244.50,523.11 L245.26,524.14 L246.04,525.16 L246.82,526.19 L247.62,527.20 L248.43,528.22 L249.25,529.23 L250.07,530.23 L250.91,531.23 L251.76,532.23 L252.62,533.22 L253.49,534.21 L254.37,535.19 L255.26,536.18 L256.16,537.15 L257.07,538.12 L257.99,539.09 L258.92,540.06 L259.86,541.02 L260.81,541.97 L261.77,542.92 L262.74,543.85 L263.72,544.78 L264.71,545.69 L265.70,546.58 L266.71,547.45 L267.72,548.30 L268.75,549.13 L269.78,549.93 L270.82,550.70 L271.87,551.44 L272.93,552.15 L274.00,552.82 L275.07,553.46 L276.16,554.05 L277.25,554.61 L278.35,555.11 L279.46,555.58 L280.58,555.99 L281.70,556.35 L282.83,556.66 L283.97,556.91 L285.12,557.10 L286.28,557.23 L287.44,557.30 L288.61,557.30 L289.79,557.24 L290.97,557.11 L292.16,556.90 L293.35,556.63 L294.54,556.29 L295.71,555.87 L296.86,555.39 L297.99,554.84 L299.09,554.22 L300.15,553.54 L301.17,552.78 L302.15,551.97 L303.08,551.09 L303.96,550.16 L304.80,549.18 L305.59,548.16 L306.34,547.10 L307.06,546.00 L307.73,544.88 L308.37,543.74 L308.97,542.58 L309.53,541.41 L310.06,540.23 L310.56,539.05 L311.03,537.86 L311.47,536.66 L311.87,535.46 L312.25,534.24 L312.61,533.03 L312.93,531.80 L313.23,530.57 L313.51,529.34 L313.76,528.10 L314.00,526.86 L314.21,525.61 L314.40,524.36 L314.58,523.10 L314.74,521.84 L314.88,520.58 L315.00,519.32 L315.12,518.05 L315.22,516.78 L315.30,515.51 L315.38,514.23 L315.45,512.96 L315.51,511.68 L315.56,510.41 L315.61,509.13 L315.65,507.85 L315.68,506.57 L315.72,505.29 L315.75,504.02 L315.78,502.74 L315.81,501.46 L315.83,500.19 L315.86,498.92 L315.88,497.64 L315.90,496.37 L315.93,495.10 L315.95,493.82 L315.96,492.55 L315.98,491.28 L316.00,490.01 L316.01,488.74 L316.03,487.47 L316.04,486.20 L316.05,484.93 L316.06,483.66 L316.07,482.40 L316.08,481.13 L316.09,479.86 L316.09,478.59 L316.10,477.33 L316.10,476.06 L316.11,474.79 L316.11,473.53 L316.11,472.26 L316.11,471.00 L316.11,469.73 L316.11,468.47 L316.11,467.20 L316.11,465.94 L316.11,464.68 L316.11,463.41 L316.10,462.15 L316.10,460.88 L316.10,459.62 L316.09,458.36 L316.09,457.09 L316.08,455.83 L316.08,454.57 L316.07,453.30 L316.06,452.04 L316.06,450.78 L316.05,449.52 L316.04,448.25 L316.04,446.99 L316.03,445.73 L316.02,444.46 L316.02,443.20 L316.01,441.93 L316.00,440.67 L316.00,439.41 L315.99,438.14 L315.98,436.88 L315.98,435.61 L315.97,434.35 L315.96,433.09 L315.96,431.82 L315.95,430.55 L315.95,429.29 L315.94,428.02 L315.94,426.76 L315.93,425.49 L315.93,424.22 L315.93,422.96 L315.93,421.69 L315.92,420.42 L315.92,419.15 L315.92,417.88 L315.92,416.61 L315.92,415.34 L315.92,414.07 L315.92,412.80 L315.93,411.53 L315.93,410.26 L315.94,408.99 L315.94,407.72 L315.95,406.44 L315.95,405.17 L315.96,403.90 L315.97,402.62 L315.98,401.34 L315.99,400.07 L316.01,398.79 L316.02,397.51 L316.03,396.24 L316.05,394.96" stroke="#fff" stroke-width="13.4" fill="none"/>
<path d="M248.67,361.20 L249.89,361.20 L251.11,361.20 L252.33,361.20 L253.56,361.19 L254.79,361.19 L256.02,361.19 L257.26,361.19 L258.49,361.18 L259.73,361.18 L260.98,361.18 L262.22,361.18 L263.47,361.19 L264.72,361.19 L265.97,361.20 L267.22,361.20 L268.47,361.22 L269.73,361.23 L270.98,361.25 L272.24,361.27 L273.50,361.29 L274.75,361.32 L276.01,361.35 L277.27,361.38 L278.53,361.42 L279.79,361.47 L281.05,361.52 L282.31,361.57 L283.57,361.63 L284.83,361.70 L286.09,361.77 L287.35,361.85 L288.61,361.94 L289.87,362.03 L291.12,362.13 L292.38,362.24 L293.63,362.36 L294.88,362.48 L296.14,362.61 L297.39,362.75 L298.63,362.90 L299.88,363.06 L301.12,363.22 L302.37,363.40 L303.60,363.59 L304.84,363.78 L306.08,363.99 L307.31,364.21 L308.54,364.43 L309.76,364.67 L310.99,364.92 L312.21,365.19 L313.42,365.46 L314.64,365.75 L315.84,366.04 L317.05,366.36 L318.25,366.68 L319.45,367.01 L320.64,367.36 L321.83,367.72 L323.02,368.10 L324.20,368.48 L325.38,368.88 L326.55,369.29 L327.71,369.71 L328.88,370.14 L330.03,370.59 L331.19,371.05 L332.33,371.52 L333.48,372.00 L334.61,372.50 L335.74,373.00 L336.87,373.52 L337.99,374.05 L339.10,374.59 L340.21,375.15 L341.31,375.71 L342.41,376.29 L343.50,376.88 L344.58,377.48 L345.66,378.09 L346.73,378.72 L347.79,379.35 L348.85,380.00 L349.90,380.66 L350.94,381.33 L351.98,382.02 L353.01,382.71 L354.03,383.42 L355.04,384.13 L356.05,384.86 L357.05,385.60 L358.04,386.35 L359.02,387.11 L360.00,387.89 L360.96,388.67 L361.92,389.47 L362.87,390.28 L363.82,391.10 L364.75,391.92 L365.67,392.77 L366.59,393.62 L367.50,394.48 L368.40,395.35 L369.29,396.24 L370.17,397.13 L371.04,398.04 L371.90,398.96 L372.75,399.89 L373.60,400.83 L374.43,401.78 L375.25,402.74 L376.06,403.71 L376.87,404.69 L377.66,405.68 L378.44,406.69 L379.21,407.70 L379.97,408.72 L380.72,409.76 L381.45,410.80 L382.17,411.85 L382.87,412.91 L383.56,413.98 L384.24,415.06 L384.89,416.15 L385.53,417.25 L386.16,418.35 L386.76,419.46 L387.35,420.58 L387.91,421.71 L388.46,422.84 L388.99,423.98 L389.49,425.13 L389.98,426.28 L390.44,427.45 L390.88,428.61 L391.29,429.79 L391.68,430.96 L392.05,432.15 L392.40,433.34 L392.72,434.53 L393.02,435.73 L393.30,436.94 L393.56,438.15 L393.80,439.36 L394.02,440.58 L394.22,441.80 L394.40,443.03 L394.56,444.25 L394.71,445.49 L394.83,446.72 L394.94,447.96 L395.03,449.20 L395.11,450.45 L395.16,451.70 L395.21,452.95 L395.24,454.20 L395.25,455.45 L395.25,456.70 L395.23,457.96 L395.20,459.22 L395.16,460.48 L395.10,461.73 L395.03,462.99 L394.95,464.25 L394.85,465.51 L394.74,466.77 L394.61,468.02 L394.48,469.28 L394.32,470.53 L394.16,471.78 L393.98,473.03 L393.79,474.28 L393.58,475.52 L393.36,476.76 L393.13,478.00 L392.89,479.23 L392.63,480.46 L392.36,481.69 L392.08,482.90 L391.78,484.12 L391.47,485.33 L391.15,486.53 L390.82,487.73 L390.47,488.93 L390.11,490.12 L389.74,491.30 L389.35,492.48 L388.96,493.66 L388.55,494.83 L388.13,495.99 L387.70,497.15 L387.25,498.30 L386.79,499.45 L386.32,500.60 L385.84,501.73 L385.35,502.87 L384.84,504.00 L384.33,505.12 L383.80,506.24 L383.26,507.35 L382.71,508.46 L382.14,509.56 L381.57,510.65 L380.98,511.75 L380.38,512.83 L379.77,513.91 L379.15,514.99 L378.52,516.06 L377.88,517.12 L377.22,518.18 L376.56,519.23 L375.88,520.28 L375.19,521.32 L374.49,522.36 L373.78,523.39 L373.06,524.41 L372.33,525.43 L371.59,526.45 L370.84,527.45 L370.07,528.46 L369.30,529.45 L368.52,530.45 L367.72,531.43 L366.92,532.41 L366.10,533.38 L365.27,534.35 L364.44,535.31 L363.59,536.27 L362.74,537.22 L361.87,538.17 L360.99,539.11 L360.11,540.04 L359.21,540.97 L358.30,541.89 L357.39,542.80 L356.46,543.71 L355.53,544.61 L354.58,545.51 L353.62,546.40 L352.66,547.28 L351.68,548.14 L350.70,548.99 L349.70,549.81 L348.69,550.60 L347.67,551.37 L346.63,552.09 L345.58,552.78 L344.52,553.43 L343.45,554.02 L342.36,554.57 L341.26,555.06 L340.14,555.50 L339.00,555.86 L337.85,556.17 L336.69,556.41 L335.53,556.57 L334.35,556.68 L333.18,556.71 L332.01,556.68 L330.84,556.57 L329.68,556.40 L328.53,556.15 L327.39,555.84 L326.27,555.45 L325.17,554.99 L324.09,554.47 L323.03,553.89 L321.99,553.25 L320.98,552.55 L319.98,551.80 L319.01,551.00 L318.06,550.16 L317.14,549.27 L316.25,548.34 L315.38,547.38 L314.54,546.38 L313.73,545.36 L312.95,544.31 L312.20,543.23 L311.48,542.14 L310.79,541.02 L310.14,539.90 L309.52,538.76 L308.94,537.62 L308.38,536.47 L307.87,535.31 L307.38,534.15 L306.92,532.98 L306.49,531.80 L306.09,530.62 L305.71,529.43 L305.36,528.23 L305.04,527.03 L304.74,525.83 L304.46,524.62 L304.20,523.40 L303.96,522.19 L303.74,520.96 L303.54,519.74 L303.36,518.51 L303.19,517.28 L303.04,516.04 L302.90,514.80 L302.77,513.56 L302.65,512.32 L302.54,511.08 L302.44,509.83 L302.35,508.59 L302.27,507.34 L302.19,506.09 L302.12,504.85 L302.05,503.60 L301.98,502.35 L301.92,501.10 L301.86,499.86 L301.80,498.61 L301.75,497.36 L301.70,496.11 L301.65,494.87 L301.61,493.62 L301.57,492.37 L301.53,491.12 L301.50,489.88 L301.46,488.63 L301.43,487.38 L301.41,486.13 L301.38,484.89 L301.36,483.64 L301.34,482.39 L301.32,481.14 L301.31,479.90 L301.29,478.65 L301.28,477.40 L301.27,476.15 L301.26,474.90 L301.26,473.66 L301.25,472.41 L301.25,471.16 L301.25,469.91 L301.25,468.67 L301.25,467.42 L301.26,466.17 L301.26,464.92 L301.27,463.67 L301.27,462.43 L301.28,461.18 L301.29,459.93 L301.30,458.68 L301.31,457.43 L301.32,456.19 L301.34,454.94 L301.35,453.69 L301.36,452.44 L301.38,451.19 L301.39,449.94 L301.41,448.70 L301.42,447.45 L301.44,446.20 L301.45,444.95 L301.47,443.70 L301.49,442.45 L301.50,441.21 L301.52,439.96 L301.53,438.71 L301.55,437.46 L301.56,436.21 L301.58,434.96 L301.59,433.72 L301.61,432.47 L301.62,431.22 L301.63,429.97 L301.64,428.72 L301.65,427.47 L301.66,426.22 L301.67,424.97 L301.68,423.73 L301.68,422.48 L301.69,421.23 L301.69,419.98 L301.69,418.73 L301.69,417.48 L301.69,416.23 L301.69,414.98 L301.69,413.73 L301.68,412.49 L301.67,411.24 L301.66,409.99 L301.65,408.74 L301.64,407.49 L301.62,406.24 L301.60,404.99 L301.58,403.74 L301.56,402.49 L301.54,401.24 L301.51,399.99 L301.48,398.74 L301.45,397.49 L301.41,396.24 L301.38,394.99" stroke="#303030" stroke-width="18.6" fill="none"/>
<path d="M248.67,361.20 L249.89,361.20 L251.11,361.20 L252.33,361.20 L253.56,361.19 L254.79,361.19 L256.02,361.19 L257.26,361.19 L258.49,361.18 L259.73,361.18 L260.98,361.18 L262.22,361.18 L263.47,361.19 L264.72,361.19 L265.97,361.20 L267.22,361.20 L268.47,361.22 L269.73,361.23 L270.98,361.25 L272.24,361.27 L273.50,361.29 L274.75,361.32 L276.01,361.35 L277.27,361.38 L278.53,361.42 L279.79,361.47 L281.05,361.52 L282.31,361.57 L283.57,361.63 L284.83,361.70 L286.09,361.77 L287.35,361.85 L288.61,361.94 L289.87,362.03 L291.12,362.13 L292.38,362.24 L293.63,362.36 L294.88,362.48 L296.14,362.61 L297.39,362.75 L298.63,362.90 L299.88,363.06 L301.12,363.22 L302.37,363.40 L303.60,363.59 L304.84,363.78 L306.08,363.99 L307.31,364.21 L308.54,364.43 L309.76,364.67 L310.99,364.92 L312.21,365.19 L313.42,365.46 L314.64,365.75 L315.84,366.04 L317.05,366.36 L318.25,366.68 L319.45,367.01 L320.64,367.36 L321.83,367.72 L323.02,368.10 L324.20,368.48 L325.38,368.88 L326.55,369.29 L327.71,369.71 L328.88,370.14 L330.03,370.59 L331.19,371.05 L332.33,371.52 L333.48,372.00 L334.61,372.50 L335.74,373.00 L336.87,373.52 L337.99,374.05 L339.10,374.59 L340.21,375.15 L341.31,375.71 L342.41,376.29 L343.50,376.88 L344.58,377.48 L345.66,378.09 L346.73,378.72 L347.79,379.35 L348.85,380.00 L349.90,380.66 L350.94,381.33 L351.98,382.02 L353.01,382.71 L354.03,383.42 L355.04,384.13 L356.05,384.86 L357.05,385.60 L358.04,386.35 L359.02,387.11 L360.00,387.89 L360.96,388.67 L361.92,389.47 L362.87,390.28 L363.82,391.10 L364.75,391.92 L365.67,392.77 L366.59,393.62 L367.50,394.48 L368.40,395.35 L369.29,396.24 L370.17,397.13 L371.04,398.04 L371.90,398.96 L372.75,399.89 L373.60,400.83 L374.43,401.78 L375.25,402.74 L376.06,403.71 L376.87,404.69 L377.66,405.68 L378.44,406.69 L379.21,407.70 L379.97,408.72 L380.72,409.76 L381.45,410.80 L382.17,411.85 L382.87,412.91 L383.56,413.98 L384.24,415.06 L384.89,416.15 L385.53,417.25 L386.16,418.35 L386.76,419.46 L387.35,420.58 L387.91,421.71 L388.46,422.84 L388.99,423.98 L389.49,425.13 L389.98,426.28 L390.44,427.45 L390.88,428.61 L391.29,429.79 L391.68,430.96 L392.05,432.15 L392.40,433.34 L392.72,434.53 L393.02,435.73 L393.30,436.94 L393.56,438.15 L393.80,439.36 L394.02,440.58 L394.22,441.80 L394.40,443.03 L394.56,444.25 L394.71,445.49 L394.83,446.72 L394.94,447.96 L395.03,449.20 L395.11,450.45 L395.16,451.70 L395.21,452.95 L395.24,454.20 L395.25,455.45 L395.25,456.70 L395.23,457.96 L395.20,459.22 L395.16,460.48 L395.10,461.73 L395.03,462.99 L394.95,464.25 L394.85,465.51 L394.74,466.77 L394.61,468.02 L394.48,469.28 L394.32,470.53 L394.16,471.78 L393.98,473.03 L393.79,474.28 L393.58,475.52 L393.36,476.76 L393.13,478.00 L392.89,479.23 L392.63,480.46 L392.36,481.69 L392.08,482.90 L391.78,484.12 L391.47,485.33 L391.15,486.53 L390.82,487.73 L390.47,488.93 L390.11,490.12 L389.74,491.30 L389.35,492.48 L388.96,493.66 L388.55,494.83 L388.13,495.99 L387.70,497.15 L387.25,498.30 L386.79,499.45 L386.32,500.60 L385.84,501.73 L385.35,502.87 L384.84,504.00 L384.33,505.12 L383.80,506.24 L383.26,507.35 L382.71,508.46 L382.14,509.56 L381.57,510.65 L380.98,511.75 L380.38,512.83 L379.77,513.91 L379.15,514.99 L378.52,516.06 L377.88,517.12 L377.22,518.18 L376.56,519.23 L375.88,520.28 L375.19,521.32 L374.49,522.36 L373.78,523.39 L373.06,524.41 L372.33,525.43 L371.59,526.45 L370.84,527.45 L370.07,528.46 L369.30,529.45 L368.52,530.45 L367.72,531.43 L366.92,532.41 L366.10,533.38 L365.27,534.35 L364.44,535.31 L363.59,536.27 L362.74,537.22 L361.87,538.17 L360.99,539.11 L360.11,540.04 L359.21,540.97 L358.30,541.89 L357.39,542.80 L356.46,543.71 L355.53,544.61 L354.58,545.51 L353.62,546.40 L352.66,547.28 L351.68,548.14 L350.70,548.99 L349.70,549.81 L348.69,550.60 L347.67,551.37 L346.63,552.09 L345.58,552.78 L344.52,553.43 L343.45,554.02 L342.36,554.57 L341.26,555.06 L340.14,555.50 L339.00,555.86 L337.85,556.17 L336.69,556.41 L335.53,556.57 L334.35,556.68 L333.18,556.71 L332.01,556.68 L330.84,556.57 L329.68,556.40 L328.53,556.15 L327.39,555.84 L326.27,555.45 L325.17,554.99 L324.09,554.47 L323.03,553.89 L321.99,553.25 L320.98,552.55 L319.98,551.80 L319.01,551.00 L318.06,550.16 L317.14,549.27 L316.25,548.34 L315.38,547.38 L314.54,546.38 L313.73,545.36 L312.95,544.31 L312.20,543.23 L311.48,542.14 L310.79,541.02 L310.14,539.90 L309.52,538.76 L308.94,537.62 L308.38,536.47 L307.87,535.31 L307.38,534.15 L306.92,532.98 L306.49,531.80 L306.09,530.62 L305.71,529.43 L305.36,528.23 L305.04,527.03 L304.74,525.83 L304.46,524.62 L304.20,523.40 L303.96,522.19 L303.74,520.96 L303.54,519.74 L303.36,518.51 L303.19,517.28 L303.04,516.04 L302.90,514.80 L302.77,513.56 L302.65,512.32 L302.54,511.08 L302.44,509.83 L302.35,508.59 L302.27,507.34 L302.19,506.09 L302.12,504.85 L302.05,503.60 L301.98,502.35 L301.92,501.10 L301.86,499.86 L301.80,498.61 L301.75,497.36 L301.70,496.11 L301.65,494.87 L301.61,493.62 L301.57,492.37 L301.53,491.12 L301.50,489.88 L301.46,488.63 L301.43,487.38 L301.41,486.13 L301.38,484.89 L301.36,483.64 L301.34,482.39 L301.32,481.14 L301.31,479.90 L301.29,478.65 L301.28,477.40 L301.27,476.15 L301.26,474.90 L301.26,473.66 L301.25,472.41 L301.25,471.16 L301.25,469.91 L301.25,468.67 L301.25,467.42 L301.26,466.17 L301.26,464.92 L301.27,463.67 L301.27,462.43 L301.28,461.18 L301.29,459.93 L301.30,458.68 L301.31,457.43 L301.32,456.19 L301.34,454.94 L301.35,453.69 L301.36,452.44 L301.38,451.19 L301.39,449.94 L301.41,448.70 L301.42,447.45 L301.44,446.20 L301.45,444.95 L301.47,443.70 L301.49,442.45 L301.50,441.21 L301.52,439.96 L301.53,438.71 L301.55,437.46 L301.56,436.21 L301.58,434.96 L301.59,433.72 L301.61,432.47 L301.62,431.22 L301.63,429.97 L301.64,428.72 L301.65,427.47 L301.66,426.22 L301.67,424.97 L301.68,423.73 L301.68,422.48 L301.69,421.23 L301.69,419.98 L301.69,418.73 L301.69,417.48 L301.69,416.23 L301.69,414.98 L301.69,413.73 L301.68,412.49 L301.67,411.24 L301.66,409.99 L301.65,408.74 L301.64,407.49 L301.62,406.24 L301.60,404.99 L301.58,403.74 L301.56,402.49 L301.54,401.24 L301.51,399.99 L301.48,398.74 L301.45,397.49 L301.41,396.24 L301.38,394.99" stroke="#fff" stroke-width="13.4" fill="none"/>
<rect x="293.0" y="375.5" width="16.0" height="31.5" rx="0" fill="#303030"/>
<rect x="294.8" y="379.5" width="12.399999999999977" height="3.0" rx="0" fill="#fff"/>
<rect x="294.8" y="402" width="12.399999999999977" height="3.5" rx="0" fill="#fff"/>
<ellipse cx="293" cy="392.7" rx="0.9" ry="8" fill="#303030"/>
<ellipse cx="309" cy="392.7" rx="0.9" ry="8" fill="#303030"/>
<circle cx="298.1" cy="387.5" r="1.5" fill="#fff"/>
<circle cx="298.1" cy="399.5" r="1.5" fill="#fff"/>
<rect x="296.8" y="390.3" width="2.6000000000000227" height="6.399999999999977" rx="0" fill="#b0b0b0"/>
<circle cx="303.9" cy="387.5" r="1.5" fill="#fff"/>
<circle cx="303.9" cy="399.5" r="1.5" fill="#fff"/>
<rect x="302.59999999999997" y="390.3" width="2.6000000000000227" height="6.399999999999977" rx="0" fill="#b0b0b0"/>
<rect x="308.5" y="375.5" width="16.0" height="31.5" rx="0" fill="#303030"/>
<rect x="310.3" y="379.5" width="12.399999999999977" height="3.0" rx="0" fill="#fff"/>
<rect x="310.3" y="402" width="12.399999999999977" height="3.5" rx="0" fill="#fff"/>
<ellipse cx="308.5" cy="392.7" rx="0.9" ry="8" fill="#303030"/>
<ellipse cx="324.5" cy="392.7" rx="0.9" ry="8" fill="#303030"/>
<circle cx="313.6" cy="387.5" r="1.5" fill="#fff"/>
<circle cx="313.6" cy="399.5" r="1.5" fill="#fff"/>
<rect x="312.3" y="390.3" width="2.6000000000000227" height="6.399999999999977" rx="0" fill="#b0b0b0"/>
<circle cx="319.4" cy="387.5" r="1.5" fill="#fff"/>
<circle cx="319.4" cy="399.5" r="1.5" fill="#fff"/>
<rect x="318.09999999999997" y="390.3" width="2.6000000000000227" height="6.399999999999977" rx="0" fill="#b0b0b0"/>
<polygon points="253,399 253,453.5 227,453.5 230,430 238,412 244,399" fill="#fff"/>
<line x1="238.2" y1="372.1" x2="238.2" y2="400" stroke="#404040" stroke-width="1.15"/>
<g fill="none" stroke="#333" stroke-width="1.5" stroke-linecap="butt" stroke-linejoin="miter" transform="rotate(-90 239.3 427.2)"><path transform="translate(221.05,420.70)" d="M4.27,2.65 A5.75,5.75 0 1,0 5.75,6.5 H0.9"/><path transform="translate(238.35,420.70)" d="M-3.1,2.4 C-2.4,1.3 -1.3,0.75 0,0.75 C1.8,0.75 3.0,1.9 3.0,3.5 C3.0,5.1 1.8,6.2 -0.4,6.2 C2.1,6.2 3.6,7.6 3.6,9.3 C3.6,11.1 2.1,12.25 0,12.25 C-1.5,12.25 -2.8,11.6 -3.6,10.5"/><path transform="translate(248.70,420.70)" d="M3.75,-1.0 L-3.75,15.8"/><path transform="translate(259.05,420.70)" d="M-2.70,3.50 A2.70,2.75 0 1,0 2.70,3.50 A2.70,2.75 0 1,0 -2.70,3.50 Z M-3.15,9.10 A3.15,3.15 0 1,0 3.15,9.10 A3.15,3.15 0 1,0 -3.15,9.10 Z"/></g>
<rect x="284" y="296.5" width="48" height="68.0" rx="0" fill="#fff"/>
<rect x="287.7" y="295.5" width="41.60000000000002" height="19.399999999999977" rx="0" stroke="#303030" stroke-width="2.2" fill="none"/>
<rect x="289.4" y="297" width="10.700000000000045" height="3" rx="0" fill="#888"/>
<rect x="316" y="297" width="5.100000000000023" height="3" rx="0" fill="#888"/>
<line x1="299.3" y1="300" x2="299.3" y2="314.9" stroke="#555" stroke-width="1.3"/>
<line x1="306.1" y1="300" x2="306.1" y2="314.9" stroke="#666" stroke-width="1.1"/>
<line x1="312.1" y1="300" x2="312.1" y2="314.9" stroke="#666" stroke-width="1.1"/>
<line x1="316.8" y1="300" x2="316.8" y2="314.9" stroke="#777" stroke-width="1.6"/>
<line x1="322" y1="300" x2="322" y2="314.9" stroke="#666" stroke-width="1.1"/>
<line x1="327" y1="300" x2="327" y2="314.9" stroke="#666" stroke-width="1.1"/>
<line x1="290.5" y1="300" x2="290.5" y2="314.9" stroke="#888" stroke-width="1.0"/>
<rect x="274.7" y="314.6" width="67.60000000000002" height="6.199999999999989" rx="1.8" fill="#303030"/>
<rect x="279.5" y="320.4" width="59.5" height="8.200000000000045" rx="3.2" fill="#303030"/>
<line x1="284" y1="324.3" x2="334" y2="324.3" stroke="#777" stroke-width="0.6"/>
<rect x="283.8" y="328.1" width="48.89999999999998" height="7.099999999999966" rx="0" stroke="#303030" stroke-width="2.2" fill="#303030"/>
<rect x="286.5" y="331" width="29.5" height="2.1999999999999886" rx="0" fill="#fff"/>
<rect x="318" y="331" width="6" height="2.1999999999999886" rx="0" fill="#fff"/>
<rect x="285.5" y="335.2" width="45.89999999999998" height="9.199999999999989" rx="0" stroke="#303030" stroke-width="2.2" fill="#fff"/>
<rect x="317.7" y="337.5" width="10.300000000000011" height="6.5" rx="0" fill="#303030"/>
<rect x="319.5" y="339.3" width="6.800000000000011" height="2.8999999999999773" rx="0" fill="#fff"/>
<line x1="299" y1="336" x2="299" y2="344.4" stroke="#666" stroke-width="1.3"/>
<line x1="306" y1="336" x2="306" y2="344.4" stroke="#666" stroke-width="1.3"/>
<line x1="312" y1="336" x2="312" y2="344.4" stroke="#666" stroke-width="1.3"/>
<rect x="286" y="345.5" width="44.5" height="19.0" rx="0" fill="#fff"/>
<line x1="287.1" y1="340" x2="287.1" y2="364.3" stroke="#303030" stroke-width="1.2"/>
<line x1="329.3" y1="340" x2="329.3" y2="364.3" stroke="#303030" stroke-width="1.2"/>
<line x1="248.6" y1="354.3" x2="276" y2="354.3" stroke="#404040" stroke-width="1.15"/>
<line x1="340.7" y1="354.3" x2="369" y2="354.3" stroke="#404040" stroke-width="1.15"/>
<polygon points="287.10,354.30 275.60,347.30 275.60,361.30" fill="#303030"/>
<polygon points="329.30,354.30 340.80,347.30 340.80,361.30" fill="#303030"/>
<g fill="none" stroke="#333" stroke-width="1.5" stroke-linecap="butt" stroke-linejoin="miter"><path transform="translate(297.50,348.00)" d="M-5.70,6.50 A5.70,5.70 0 1,0 5.70,6.50 A5.70,5.70 0 1,0 -5.70,6.50 Z M-6.2,12.8 L6.2,0.2"/><path transform="translate(310.40,348.00)" d="M-3.1,2.4 C-2.4,1.3 -1.3,0.75 0,0.75 C1.8,0.75 3.0,1.9 3.0,3.5 C3.0,5.1 1.8,6.2 -0.4,6.2 C2.1,6.2 3.6,7.6 3.6,9.3 C3.6,11.1 2.1,12.25 0,12.25 C-1.5,12.25 -2.8,11.6 -3.6,10.5"/><path transform="translate(321.30,348.00)" d="M-3.4,3.7 C-3.4,1.9 -1.9,0.75 0,0.75 C1.95,0.75 3.4,2.0 3.4,3.8 C3.4,4.9 2.9,5.7 2.1,6.6 L-3.6,12.25 H3.7"/></g>
<line x1="394.3" y1="314.5" x2="410" y2="314.5" stroke="#404040" stroke-width="1.15"/>
<line x1="470" y1="314.5" x2="482" y2="314.5" stroke="#404040" stroke-width="1.15"/>
<polygon points="421.40,314.50 409.90,307.50 409.90,321.50" fill="#303030"/>
<polygon points="458.50,314.50 470.00,307.50 470.00,321.50" fill="#303030"/>
<g fill="none" stroke="#333" stroke-width="1.5" stroke-linecap="butt" stroke-linejoin="miter"><path transform="translate(489.60,308.00)" d="M-5.70,6.50 A5.70,5.70 0 1,0 5.70,6.50 A5.70,5.70 0 1,0 -5.70,6.50 Z M-6.2,12.8 L6.2,0.2"/><path transform="translate(510.80,308.00)" d="M-3.4,3.7 C-3.4,1.9 -1.9,0.75 0,0.75 C1.95,0.75 3.4,2.0 3.4,3.8 C3.4,4.9 2.9,5.7 2.1,6.6 L-3.6,12.25 H3.7"/><path transform="translate(521.70,308.00)" d="M-2.70,3.50 A2.70,2.75 0 1,0 2.70,3.50 A2.70,2.75 0 1,0 -2.70,3.50 Z M-3.15,9.10 A3.15,3.15 0 1,0 3.15,9.10 A3.15,3.15 0 1,0 -3.15,9.10 Z"/></g>
<line x1="398.6" y1="423.4" x2="414.2" y2="423.4" stroke="#404040" stroke-width="1.15"/>
<line x1="465" y1="423.4" x2="478.9" y2="423.4" stroke="#404040" stroke-width="1.15"/>
<polygon points="426.30,423.40 414.80,416.40 414.80,430.40" fill="#303030"/>
<polygon points="453.00,423.40 464.50,416.40 464.50,430.40" fill="#303030"/>
<line x1="426.3" y1="397" x2="426.3" y2="436" stroke="#777" stroke-width="1.15"/>
<line x1="453" y1="397" x2="453" y2="436" stroke="#777" stroke-width="1.15"/>
<g fill="none" stroke="#333" stroke-width="1.5" stroke-linecap="butt" stroke-linejoin="miter"><path transform="translate(489.50,417.70)" d="M4.27,2.65 A5.75,5.75 0 1,0 5.75,6.5 H0.9"/><path transform="translate(506.80,417.70)" d="M-1.6,2.1 L1.1,0.75 V12.25"/><path transform="translate(517.15,417.70)" d="M3.75,-1.0 L-3.75,15.8"/><path transform="translate(527.50,417.70)" d="M-3.4,3.7 C-3.4,1.9 -1.9,0.75 0,0.75 C1.95,0.75 3.4,2.0 3.4,3.8 C3.4,4.9 2.9,5.7 2.1,6.6 L-3.6,12.25 H3.7"/></g>
<line x1="402.2" y1="660.5" x2="417" y2="660.5" stroke="#404040" stroke-width="1.15"/>
<line x1="463.4" y1="660.5" x2="476.4" y2="660.5" stroke="#404040" stroke-width="1.15"/>
<polygon points="428.20,660.50 416.70,653.50 416.70,667.50" fill="#303030"/>
<polygon points="450.40,660.50 461.90,653.50 461.90,667.50" fill="#303030"/>
<line x1="428.2" y1="633" x2="428.2" y2="670.6" stroke="#777" stroke-width="1.15"/>
<line x1="450.4" y1="633" x2="450.4" y2="670.6" stroke="#777" stroke-width="1.15"/>
<line x1="439.3" y1="633" x2="439.3" y2="654.5" stroke="#404040" stroke-width="1.15"/>
<line x1="439.3" y1="669.5" x2="439.3" y2="700" stroke="#404040" stroke-width="1.15"/>
<line x1="428.2" y1="660.5" x2="450.4" y2="660.5" stroke="#404040" stroke-width="1.15"/>
<g fill="none" stroke="#333" stroke-width="1.5" stroke-linecap="butt" stroke-linejoin="miter"><path transform="translate(487.90,654.50)" d="M4.27,2.65 A5.75,5.75 0 1,0 5.75,6.5 H0.9"/><path transform="translate(505.20,654.50)" d="M-3.1,2.4 C-2.4,1.3 -1.3,0.75 0,0.75 C1.8,0.75 3.0,1.9 3.0,3.5 C3.0,5.1 1.8,6.2 -0.4,6.2 C2.1,6.2 3.6,7.6 3.6,9.3 C3.6,11.1 2.1,12.25 0,12.25 C-1.5,12.25 -2.8,11.6 -3.6,10.5"/><path transform="translate(515.55,654.50)" d="M3.75,-1.0 L-3.75,15.8"/><path transform="translate(525.90,654.50)" d="M-2.70,3.50 A2.70,2.75 0 1,0 2.70,3.50 A2.70,2.75 0 1,0 -2.70,3.50 Z M-3.15,9.10 A3.15,3.15 0 1,0 3.15,9.10 A3.15,3.15 0 1,0 -3.15,9.10 Z"/></g>
<line x1="177.5" y1="633" x2="177.5" y2="700" stroke="#404040" stroke-width="1.15"/>
<line x1="189.3" y1="687.9" x2="216" y2="687.9" stroke="#404040" stroke-width="1.15"/>
<line x1="269.6" y1="687.9" x2="297.5" y2="687.9" stroke="#404040" stroke-width="1.15"/>
<polygon points="177.50,687.90 189.00,680.90 189.00,694.90" fill="#303030"/>
<polygon points="309.30,687.90 297.80,680.90 297.80,694.90" fill="#303030"/>
<g fill="none" stroke="#333" stroke-width="1.5" stroke-linecap="butt" stroke-linejoin="miter"><path transform="translate(231.95,681.60)" d="M-1.6,2.1 L1.1,0.75 V12.25"/><path transform="translate(242.85,681.60)" d="M-3.70,6.50 A3.70,5.75 0 1,0 3.70,6.50 A3.70,5.75 0 1,0 -3.70,6.50 Z"/><path transform="translate(253.75,681.60)" d="M-3.70,6.50 A3.70,5.75 0 1,0 3.70,6.50 A3.70,5.75 0 1,0 -3.70,6.50 Z"/></g>
<line x1="320.4" y1="687.9" x2="348.3" y2="687.9" stroke="#404040" stroke-width="1.15"/>
<line x1="400.3" y1="687.9" x2="428.5" y2="687.9" stroke="#404040" stroke-width="1.15"/>
<polygon points="309.30,687.90 320.80,680.90 320.80,694.90" fill="#303030"/>
<polygon points="440.30,687.90 428.80,680.90 428.80,694.90" fill="#303030"/>
<g fill="none" stroke="#333" stroke-width="1.5" stroke-linecap="butt" stroke-linejoin="miter"><path transform="translate(364.35,681.60)" d="M-1.6,2.1 L1.1,0.75 V12.25"/><path transform="translate(375.25,681.60)" d="M-3.70,6.50 A3.70,5.75 0 1,0 3.70,6.50 A3.70,5.75 0 1,0 -3.70,6.50 Z"/><path transform="translate(386.15,681.60)" d="M-3.70,6.50 A3.70,5.75 0 1,0 3.70,6.50 A3.70,5.75 0 1,0 -3.70,6.50 Z"/></g>
</svg>
</body></html>
